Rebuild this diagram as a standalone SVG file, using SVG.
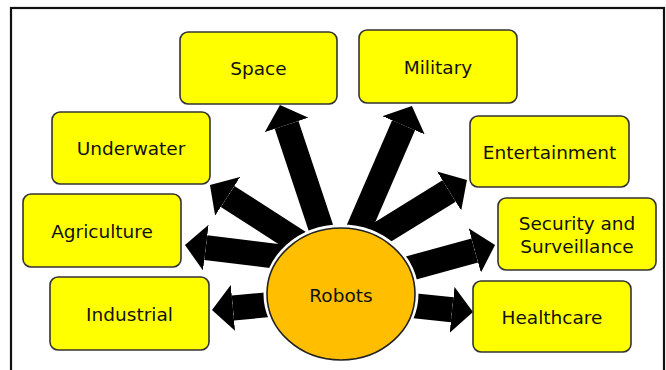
<svg xmlns="http://www.w3.org/2000/svg" width="666" height="370" viewBox="0 0 666 370">
<style>
.box{fill:#FFFF00;stroke:#333;stroke-width:1.6}
.lbl{font-family:"DejaVu Sans","Liberation Sans",sans-serif;font-size:18.5px;fill:#111;text-anchor:middle}
.arr{stroke:#000;stroke-width:25;stroke-linecap:butt;marker-end:url(#head)}
</style>
<defs>
<marker id="head" viewBox="0 0 21 46" markerWidth="21" markerHeight="46" refX="0" refY="23" orient="auto" markerUnits="userSpaceOnUse">
<path d="M0,0 L21,23 L0,46 Z" fill="#000"/>
</marker>
</defs>
<rect x="0" y="0" width="666" height="370" fill="#fff"/>
<rect x="11" y="8" width="653" height="390" fill="none" stroke="#111" stroke-width="2.2"/>
<g id="connectors">
<line class="arr" x1="324.7" y1="239.2" x2="286.6" y2="124.9"/>
<line class="arr" x1="354" y1="239.8" x2="403.6" y2="125.3"/>
<line class="arr" x1="373.2" y1="237.9" x2="449.1" y2="191"/>
<line class="arr" x1="396.5" y1="272" x2="474.8" y2="250.5"/>
<line class="arr" x1="401" y1="304.4" x2="452.1" y2="309.8"/>
<line class="arr" x1="304.6" y1="246.1" x2="227.6" y2="196.4"/>
<line class="arr" x1="288.9" y1="257.8" x2="205.8" y2="247.6"/>
<line class="arr" x1="280" y1="303.6" x2="232.9" y2="308"/>
</g>
<g id="robots">
<ellipse cx="341" cy="294" rx="74" ry="66" fill="#FFBF00" stroke="#fff" stroke-width="7"/>
<ellipse cx="341" cy="294" rx="74" ry="66" fill="#FFBF00" stroke="#222" stroke-width="1.6"/>
<text class="lbl" x="341" y="301.5">Robots</text>
</g>
<g id="space">
<rect class="box" x="180" y="32" width="157" height="72" rx="8"/>
<text class="lbl" x="258.5" y="75">Space</text>
</g>
<g id="military">
<rect class="box" x="359" y="30" width="158" height="73" rx="8"/>
<text class="lbl" x="438" y="73.5">Military</text>
</g>
<g id="underwater">
<rect class="box" x="52" y="112" width="158" height="72" rx="8"/>
<text class="lbl" x="131" y="155">Underwater</text>
</g>
<g id="entertainment">
<rect class="box" x="470" y="116" width="159" height="71" rx="8"/>
<text class="lbl" x="549.5" y="158.5">Entertainment</text>
</g>
<g id="agriculture">
<rect class="box" x="23" y="194" width="158" height="73" rx="8"/>
<text class="lbl" x="102" y="237.5">Agriculture</text>
</g>
<g id="security">
<rect class="box" x="498" y="198" width="158" height="72" rx="8"/>
<text class="lbl" x="577" y="230">Security and</text>
<text class="lbl" x="577" y="253">Surveillance</text>
</g>
<g id="industrial">
<rect class="box" x="50" y="277" width="159" height="73" rx="8"/>
<text class="lbl" x="129.5" y="320.5">Industrial</text>
</g>
<g id="healthcare">
<rect class="box" x="473" y="281" width="158" height="71" rx="8"/>
<text class="lbl" x="552" y="323.5">Healthcare</text>
</g>
</svg>
